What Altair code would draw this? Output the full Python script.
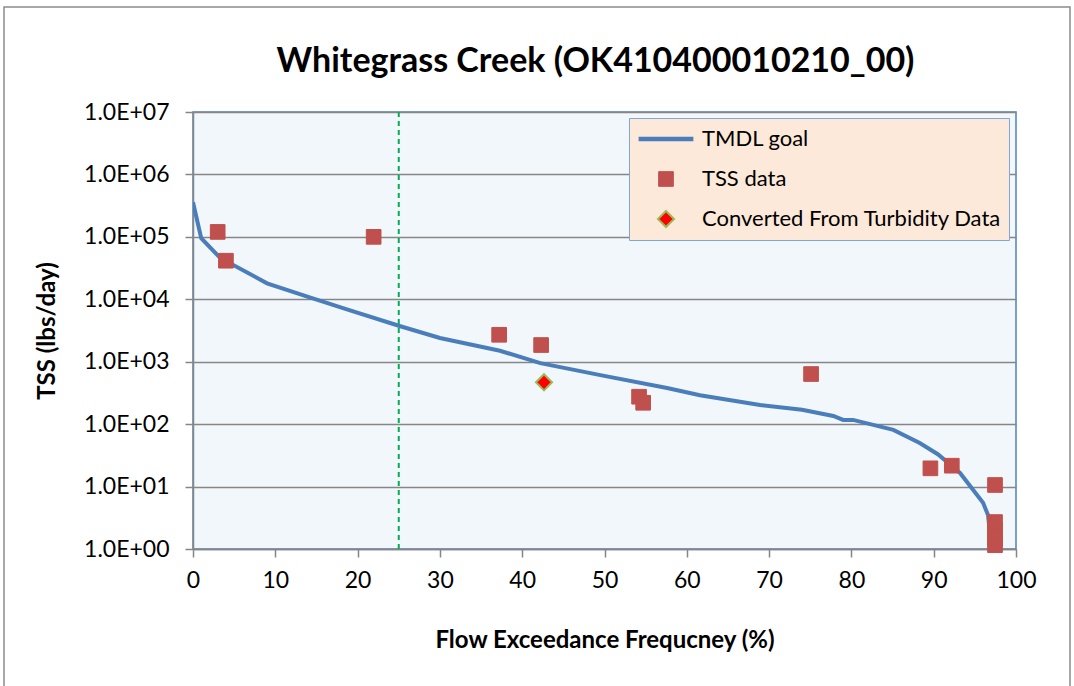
import altair as alt
import pandas as pd

# ---- data ----
tmdl_x = [0, 1.0, 3.3, 9.0, 13.9, 18.7, 25.2, 30, 37.3, 42.2, 49.5, 57.6, 61.6,
          68.9, 74, 77.8, 79.0, 80.2, 85.1, 88.3, 90.5, 93.2, 96.0, 96.6, 96.9, 97.0]
tmdl_y = [3.6e5, 9.5e4, 4.6e4, 1.8e4, 1.1e4, 6.9e3, 3.7e3, 2.4e3, 1.5e3, 950, 610,
          380, 290, 203, 170, 135, 117, 117, 81, 50, 33, 16.5, 5.5, 3.5, 1.5, 1.0]

tss_x = [3.0, 4.0, 21.95, 37.2, 42.3, 54.2, 54.7, 75.1, 89.6, 92.2,
         97.45, 97.45, 97.45, 97.45, 97.45]
tss_y = [1.2e5, 4.15e4, 1.0e5, 2.7e3, 1.85e3, 275, 220, 635, 19.6, 21.6,
         10.6, 2.7, 2.0, 1.5, 1.15]

conv_x = [42.65]
conv_y = [468]

series = ["TMDL goal", "TSS data", "Converted From Turbidity Data"]
fills = ["#4A7EBB", "#C0504D", "#FF0000"]
strokes = ["#4A7EBB", "#C0504D", "#9BBB59"]
shapes = ["stroke", "square", "diamond"]
sizes = [3000, 215, 260]
widths = [4.5, 1, 2]

y_ticks = [1, 10, 100, 1000, 1e4, 1e5, 1e6, 1e7]
x_ticks = list(range(0, 101, 10))
threshold_x = [25]

tmdl_df = pd.DataFrame({"x": tmdl_x, "y": tmdl_y})
pts_df = pd.concat([
    pd.DataFrame({"x": tss_x, "y": tss_y, "series": series[1]}),
    pd.DataFrame({"x": conv_x, "y": conv_y, "series": series[2]}),
], ignore_index=True)

FONT = "Lato"

xenc = alt.X("x:Q", scale=alt.Scale(domain=[0, 100], nice=False),
             axis=alt.Axis(values=x_ticks, title="Flow Exceedance Frequcney (%)",
                           grid=False, tickSize=8, labelPadding=12, titlePadding=36,
                           labelFlush=False))
yenc = alt.Y("y:Q", scale=alt.Scale(type="log", domain=[1, 1e7], nice=False),
             axis=alt.Axis(values=y_ticks, title="TSS (lbs/day)", grid=True,
                           gridColor="#868686", gridWidth=1.5,
                           labelExpr="'1.0E+0' + round(log(datum.value)/LN10)",
                           tickSize=8, labelPadding=16, titlePadding=24))

legend = alt.Legend(orient="none", legendX=436, legendY=6, title=None,
                    fillColor="#FDE9D9", strokeColor="#7EA6D8",
                    padding=7, labelFont=FONT, labelFontSize=22, labelColor="black",
                    labelOffset=6, rowPadding=12, clipHeight=28, labelLimit=500)

border = alt.Chart(pd.DataFrame({"a": [0]})).mark_rect(
    fillOpacity=0, stroke="#8C8C8C", strokeWidth=1.5
).encode(x=alt.value(-189), x2=alt.value(877), y=alt.value(-105), y2=alt.value(580))

line = alt.Chart(tmdl_df).mark_line(color="#4A7EBB", strokeWidth=4, clip=True).encode(
    x=xenc, y=yenc)

rule = alt.Chart(pd.DataFrame({"x": threshold_x})).mark_rule(
    color="#00B050", strokeWidth=2, strokeDash=[5, 4]).encode(x="x:Q")

points = alt.Chart(pts_df).mark_point(filled=True, opacity=1).encode(
    x="x:Q", y="y:Q",
    fill=alt.Fill("series:N", scale=alt.Scale(domain=series, range=fills), legend=legend),
    stroke=alt.Stroke("series:N", scale=alt.Scale(domain=series, range=strokes), legend=legend),
    shape=alt.Shape("series:N", scale=alt.Scale(domain=series, range=shapes), legend=legend),
    size=alt.Size("series:N", scale=alt.Scale(type="ordinal", domain=series, range=sizes), legend=legend),
    strokeWidth=alt.StrokeWidth("series:N", scale=alt.Scale(type="ordinal", domain=series, range=widths), legend=legend),
)

chart = alt.layer(border, rule, line, points).properties(
    width=823, height=437,
    background="white",
    title=alt.Title("Whitegrass Creek (OK410400010210_00)", font=FONT, fontSize=34,
                    fontWeight="bold", color="black", anchor="middle", offset=-73, dx=-9),
    autosize=alt.AutoSizeParams(type="none"),
    padding={"left": 193, "top": 112, "right": 58, "bottom": 137},
).configure_view(
    stroke="#4F81BD", strokeWidth=1.5, fill="#F2F7FB"
).configure_axis(
    labelFont=FONT, labelFontSize=23, labelColor="black",
    titleFont=FONT, titleFontSize=24, titleFontWeight="bold", titleColor="black",
    domainColor="#868686", domainWidth=1.5, tickColor="#868686", tickWidth=1.5,
)

chart.save("out.html", embed_options={"renderer": "svg", "actions": False})
